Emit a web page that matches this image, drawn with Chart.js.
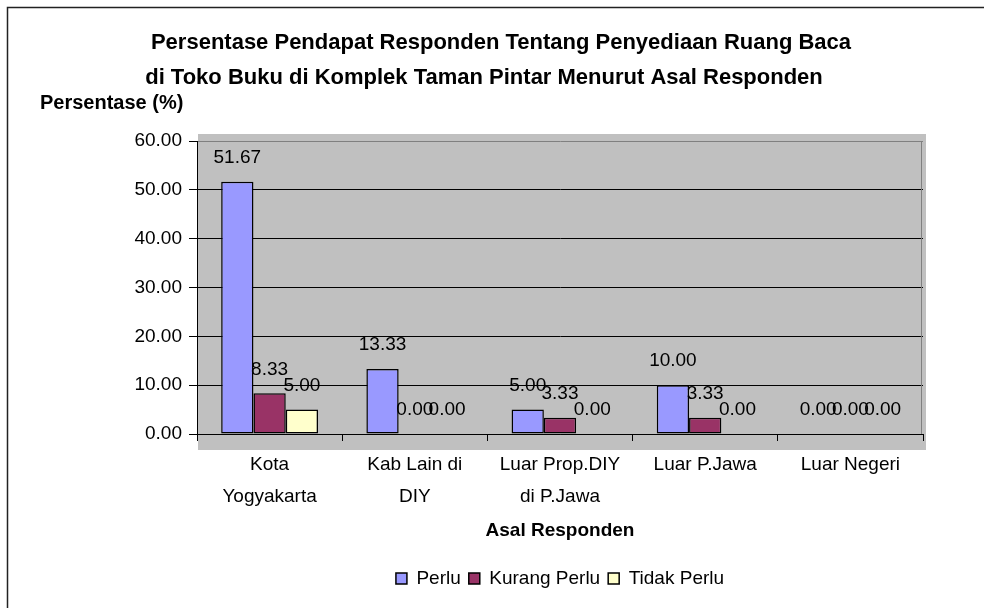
<!DOCTYPE html>
<html>
<head>
<meta charset="utf-8">
<script src="https://cdn.jsdelivr.net/npm/chart.js@4.4.1/dist/chart.umd.min.js"></script>
<style>
    html, body { margin: 0; padding: 0; background: #fff; }
    #wrap { position: relative; width: 984px; height: 608px; }
</style>
</head>
<body>
<div id="wrap"><canvas id="graph"></canvas></div>
<script>
// --- DATA ---
const categories = [['Kota', 'Yogyakarta'], ['Kab Lain di', 'DIY'], ['Luar Prop.DIY', 'di P.Jawa'], 'Luar P.Jawa', 'Luar Negeri'];
const perlu = [51.67, 13.33, 5.00, 10.00, 0.00];
const kurangPerlu = [8.33, 0.00, 3.33, 3.33, 0.00];
const tidakPerlu = [5.00, 0.00, 0.00, 0.00, 0.00];
const yTicks = [0, 10, 20, 30, 40, 50, 60];

const titleLines = ['Persentase Pendapat Responden Tentang Penyediaan Ruang Baca', 'di Toko Buku di Komplek Taman Pintar Menurut Asal Responden'];
const yTitle = 'Persentase (%)';
const xTitle = 'Asal Responden';

const FONT = '"Liberation Sans", Arial, sans-serif';

// gray wall + frame behind everything
const background = {
    id: 'background',
    beforeDraw(chart) {
        const {ctx, chartArea: a} = chart;
        ctx.save();
        ctx.fillStyle = '#fff';
        ctx.fillRect(0, 0, chart.width, chart.height);
        ctx.strokeStyle = '#222';
        ctx.lineWidth = 1.5;
        ctx.beginPath();
        ctx.moveTo(7.5, chart.height);
        ctx.lineTo(7.5, 7.5);
        ctx.lineTo(chart.width, 7.5);
        ctx.stroke();
        ctx.fillStyle = '#C0C0C0';
        ctx.fillRect(a.left + 1, a.top - 7, a.right - a.left + 2, a.bottom - a.top + 23);
        ctx.restore();
    },
    beforeDatasetsDraw(chart) {
        const {ctx, chartArea: a} = chart;
        ctx.save();
        ctx.strokeStyle = '#808080';
        ctx.lineWidth = 1;
        ctx.beginPath();
        ctx.moveTo(a.right - 1.5, a.top);
        ctx.lineTo(a.right - 1.5, a.bottom);
        ctx.stroke();
        ctx.restore();
    }
};

// value above each bar + titles
const valueLabels = {
    id: 'valueLabels',
    afterDatasetsDraw(chart) {
        const ctx = chart.ctx;
        ctx.save();
        ctx.font = '19px ' + FONT;
        ctx.fillStyle = '#000';
        ctx.textAlign = 'center';
        ctx.textBaseline = 'middle';
        chart.data.datasets.forEach((ds, i) => {
            chart.getDatasetMeta(i).data.forEach((bar, j) => {
                ctx.fillText(ds.data[j].toFixed(2), bar.x, bar.y - 24);
            });
        });
        ctx.restore();
    },
    afterDraw(chart) {
        const ctx = chart.ctx;
        ctx.save();
        ctx.fillStyle = '#000';
        ctx.textBaseline = 'middle';
        ctx.textAlign = 'center';
        ctx.font = 'bold 22px ' + FONT;
        ctx.fillText(titleLines[0], 501, 43);
        ctx.fillText(titleLines[1], 484, 78);
        ctx.textAlign = 'left';
        ctx.font = 'bold 20px ' + FONT;
        ctx.fillText(yTitle, 40, 103);
        ctx.restore();
    }
};

const canvas = document.getElementById('graph').getContext('2d');
new Chart(canvas, {
    type: 'bar',
    data: {
        labels: categories,
        datasets: [
            { label: 'Perlu', data: perlu, backgroundColor: '#9999FF' },
            { label: 'Kurang Perlu', data: kurangPerlu, backgroundColor: '#993366' },
            { label: 'Tidak Perlu', data: tidakPerlu, backgroundColor: '#FFFFCC' }
        ].map(d => Object.assign(d, { borderColor: '#000', borderWidth: 1.5, borderSkipped: false }))
    },
    options: {
        responsive: true,
        maintainAspectRatio: false,
        animation: false,
        devicePixelRatio: 1,
        layout: { padding: { top: 141, right: 61, bottom: 10, left: 0 } },
        categoryPercentage: 0.667,
        barPercentage: 1.0,
        plugins: {
            title: { display: false },
            tooltip: { enabled: false },
            legend: {
                position: 'bottom',
                fullSize: false,
                labels: {
                    color: '#000',
                    font: { family: FONT, size: 19 },
                    boxWidth: 11,
                    boxHeight: 11,
                    padding: 8
                }
            }
        },
        scales: {
            x: {
                afterFit(s) { s.height = 127; },
                border: { color: '#000', width: 1 },
                grid: {
                    offset: true,
                    drawOnChartArea: false,
                    drawTicks: true,
                    tickLength: 7,
                    color: '#000'
                },
                ticks: {
                    color: '#000',
                    padding: 8,
                    maxRotation: 0,
                    autoSkip: false,
                    font: { family: FONT, size: 19, lineHeight: 32 / 19 }
                },
                title: {
                    display: true,
                    text: xTitle,
                    color: '#000',
                    font: { family: FONT, size: 19, weight: 'bold', lineHeight: 1.2 },
                    padding: { top: 0, bottom: 19 }
                }
            },
            y: {
                min: 0,
                max: 60,
                afterFit(s) { s.width = 197; },
                afterBuildTicks(s) { s.ticks = yTicks.map(v => ({ value: v })); },
                border: { color: '#000', width: 1 },
                grid: {
                    color: ctx => ctx.tick && ctx.tick.value === 60 ? '#808080' : '#000',
                    tickColor: '#000',
                    tickLength: 8,
                    lineWidth: 1
                },
                ticks: {
                    color: '#000',
                    padding: 7,
                    font: { family: FONT, size: 19 },
                    callback: v => Number(v).toFixed(2)
                }
            }
        }
    },
    plugins: [background, valueLabels]
});
</script>
</body>
</html>
